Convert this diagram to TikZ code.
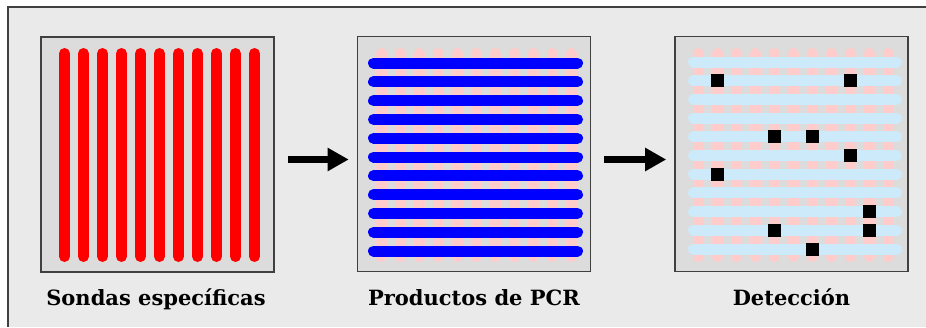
\documentclass[tikz,border=0pt]{standalone}
\usepackage{fontspec}
\newfontfamily\capfont{DejaVu Serif}
\usetikzlibrary{arrows.meta}
\definecolor{bgray}{RGB}{234,234,234}
\definecolor{pgray}{RGB}{220,220,220}
\definecolor{edge}{RGB}{64,64,64}
\definecolor{probe}{RGB}{255,0,0}
\definecolor{probepale}{RGB}{255,204,204}
\definecolor{pcr}{RGB}{0,0,255}
\definecolor{pcrpale}{RGB}{204,234,250}
\tikzset{
  panel/.style={draw=edge, line width=1.6pt, fill=pgray, minimum width=233pt,
    minimum height=235pt, inner sep=0pt},
  stripe/.style={line width=11pt, line cap=round},
  spot/.style={fill=black, minimum size=13pt, inner sep=0pt},
  bigarrow/.style={line width=7pt, -{Triangle[length=21pt,width=22pt]},
    shorten <=13pt, shorten >=8pt},
  lbl/.style={anchor=base, font=\capfont\fontsize{21}{25}\selectfont\bfseries}
}
\begin{document}
\begin{tikzpicture}[x=1pt,y=-1pt]
\useasboundingbox (0,0) rectangle (926,327);
% backdrop with its top and left border
\fill[bgray] (8,7) rectangle (926,327);
\draw[edge, line width=1.6pt] (926,7) -- (8,7) -- (8,327);

% the three panels
\node[panel] (p1) at (157.5,154.5) {};
\node[panel] (p2) at (474,154) {};
\node[panel] (p3) at (791.5,154) {};

% panel 1: specific probes (vertical)
\foreach \k in {0,...,10}
  \draw[stripe, probe] (64.5+19*\k,53.5) -- (64.5+19*\k,256.5);

% panel 2: PCR products over faded probes
\foreach \k in {0,...,10}
  \draw[stripe, probepale] (381+19*\k,53.5) -- (381+19*\k,256.5);
\foreach \k in {0,...,10}
  \draw[stripe, pcr] (373.5,63+18.8*\k) -- (577.5,63+18.8*\k);

% panel 3: detection
\foreach \k in {0,...,10}
  \draw[stripe, probepale] (698+19*\k,53.5) -- (698+19*\k,256.5);
\foreach \k in {0,...,10}
  \draw[stripe, pcrpale] (693.5,62+18.7*\k) -- (896.5,62+18.7*\k);
\foreach \c/\r [count=\i] in {1/1,8/1,4/4,6/4,8/5,1/6,9/8,4/9,9/9,6/10}
  \node[spot] (s\i) at (698+19*\c,62+18.7*\r) {};

% arrows between panels
\coordinate (a1) at (0,159.5);
\draw[bigarrow] (p1.east |- a1) -- (p2.west |- a1);
\draw[bigarrow] (p2.east |- a1) -- (p3.west |- a1);

% captions
\node[lbl] (l1) at (156,305) {Sondas específicas};
\node[lbl] (l2) at (474,305) {Productos de PCR};
\node[lbl] (l3) at (791.5,305) {Detección};
\end{tikzpicture}
\end{document}
